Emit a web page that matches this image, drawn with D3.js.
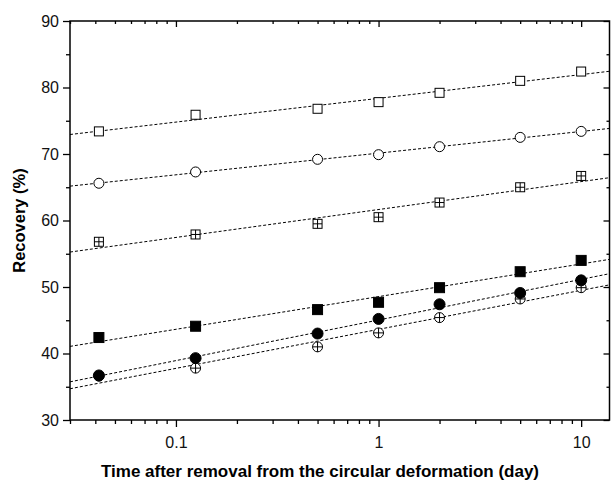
<!DOCTYPE html>
<html><head><meta charset="utf-8">
<script src="https://cdn.jsdelivr.net/npm/d3@7"></script>
<style>body{margin:0;background:#fff}svg{display:block}text{font-family:Arial,"Liberation Sans",sans-serif}</style>
</head><body><svg id="c" width="611" height="480"></svg>
<script>
const times = [1/24, 0.125, 0.5, 1, 2, 5, 10];
const openSquare   = [73.4, 75.9, 76.8, 77.8, 79.2, 81.0, 82.4];
const openCircle   = [65.6, 67.3, 69.2, 69.9, 71.1, 72.5, 73.4];
const crossSquare  = [56.8, 57.9, 59.5, 60.5, 62.7, 65.0, 66.7];
const filledSquare = [42.4, 44.1, 46.6, 47.7, 49.9, 52.3, 54.0];
const filledCircle = [36.7, 39.3, 43.0, 45.2, 47.4, 49.1, 51.0];
const crossCircle  = [36.6, 37.8, 41.0, 43.1, 45.4, 48.2, 49.9];
const xTickLabels = ["0.1", "1", "10"];
const yTickLabels = ["30", "40", "50", "60", "70", "80", "90"];

(function () {
const series = [
  {vals: openSquare, shape: "square", fill: false, cross: false},
  {vals: openCircle, shape: "circle", fill: false, cross: false},
  {vals: crossSquare, shape: "square", fill: false, cross: true},
  {vals: crossCircle, shape: "circle", fill: false, cross: true},
  {vals: filledCircle, shape: "circle", fill: true, cross: false},
  {vals: filledSquare, shape: "square", fill: true, cross: false}
];

const svg = d3.select("#c");
const L = 70, R = 609.5, T = 21, B = 420;
const x = d3.scaleLog().domain([0.03, 13.8]).range([L, R]);
const y = d3.scaleLinear().domain([30, 90]).range([B, T]);

function fit(vals) {
  const xs = times.map(Math.log10);
  const mx = d3.mean(xs), my = d3.mean(vals);
  let sxy = 0, sxx = 0;
  xs.forEach((v, i) => { sxy += (v - mx) * (vals[i] - my); sxx += (v - mx) ** 2; });
  const b = sxy / sxx, a = my - b * mx;
  return t => a + b * Math.log10(t);
}
const xd = x.domain();
series.forEach(s => {
  const f = fit(s.vals);
  svg.append("line")
    .attr("x1", x(xd[0])).attr("y1", y(f(xd[0])))
    .attr("x2", x(xd[1])).attr("y2", y(f(xd[1])))
    .attr("stroke", "#000").attr("stroke-width", 1)
    .attr("stroke-dasharray", "3,2");
});

series.forEach(s => {
  const g = svg.append("g");
  s.vals.forEach((v, i) => {
    const cx = x(times[i]), cy = y(v);
    if (s.shape === "square") {
      const h = s.fill ? 5 : 4.5;
      g.append("rect").attr("x", cx - h).attr("y", cy - h).attr("width", 2 * h).attr("height", 2 * h)
        .attr("fill", s.fill ? "#000" : "#fff").attr("stroke", "#000").attr("stroke-width", 1);
      if (s.cross) {
        g.append("line").attr("x1", cx - h).attr("x2", cx + h).attr("y1", cy).attr("y2", cy).attr("stroke", "#000");
        g.append("line").attr("x1", cx).attr("x2", cx).attr("y1", cy - h).attr("y2", cy + h).attr("stroke", "#000");
      }
    } else {
      const r = s.fill ? 5.5 : 5;
      g.append("circle").attr("cx", cx).attr("cy", cy).attr("r", r)
        .attr("fill", s.fill ? "#000" : "#fff").attr("stroke", "#000").attr("stroke-width", 1);
      if (s.cross) {
        g.append("line").attr("x1", cx - r).attr("x2", cx + r).attr("y1", cy).attr("y2", cy).attr("stroke", "#000");
        g.append("line").attr("x1", cx).attr("x2", cx).attr("y1", cy - r).attr("y2", cy + r).attr("stroke", "#000");
      }
    }
  });
});

const majors = xTickLabels.map(Number);
const minors = [];
[0.01, 0.1, 1, 10].forEach(d => { for (let k = 1; k <= 9; k++) { const v = d * k; if (v >= xd[0] - 1e-9 && v <= xd[1] && !majors.some(m => Math.abs(m - v) < 1e-9)) minors.push(v); } });

const gBottom = svg.append("g").attr("transform", `translate(0,${B})`);
gBottom.call(d3.axisBottom(x).tickValues(majors).tickFormat((d, i) => xTickLabels[i]).tickSize(7).tickPadding(10));
gBottom.append("g").call(d3.axisBottom(x).tickValues(minors).tickFormat("").tickSize(4));
const gTop = svg.append("g").attr("transform", `translate(0,${T})`);
gTop.call(d3.axisBottom(x).tickValues(majors).tickFormat("").tickSize(6));
gTop.append("g").call(d3.axisBottom(x).tickValues(minors).tickFormat("").tickSize(3));

const yMaj = yTickLabels.map(Number);
const yMin = [35, 45, 55, 65, 75, 85];
const gLeft = svg.append("g").attr("transform", `translate(${L},0)`);
gLeft.call(d3.axisLeft(y).tickValues(yMaj).tickFormat((d, i) => yTickLabels[i]).tickSize(7).tickPadding(4));
gLeft.append("g").call(d3.axisLeft(y).tickValues(yMin).tickFormat("").tickSize(4));
const gRight = svg.append("g").attr("transform", `translate(${R},0)`);
gRight.call(d3.axisLeft(y).tickValues(yMaj).tickFormat("").tickSize(6));
gRight.append("g").call(d3.axisLeft(y).tickValues(yMin).tickFormat("").tickSize(3));

svg.selectAll(".domain").remove();
svg.selectAll(".tick line").attr("stroke", "#000").attr("stroke-width", 1.3);
svg.selectAll(".tick text").attr("font-size", 16).attr("fill", "#111").attr("font-family", "Arial, 'Liberation Sans', sans-serif");
svg.append("rect").attr("x", L).attr("y", T).attr("width", R - L).attr("height", B - T)
  .attr("fill", "none").attr("stroke", "#000").attr("stroke-width", 1.5);

svg.append("text").attr("x", 320).attr("y", 476.5).attr("text-anchor", "middle")
  .attr("font-size", 17).attr("font-weight", "bold").text("Time after removal from the circular deformation (day)");
svg.append("text").attr("transform", `translate(25,${(T + B) / 2}) rotate(-90)`).attr("text-anchor", "middle")
  .attr("font-size", 16.5).attr("font-weight", "bold").text("Recovery (%)");
})();
</script></body></html>
